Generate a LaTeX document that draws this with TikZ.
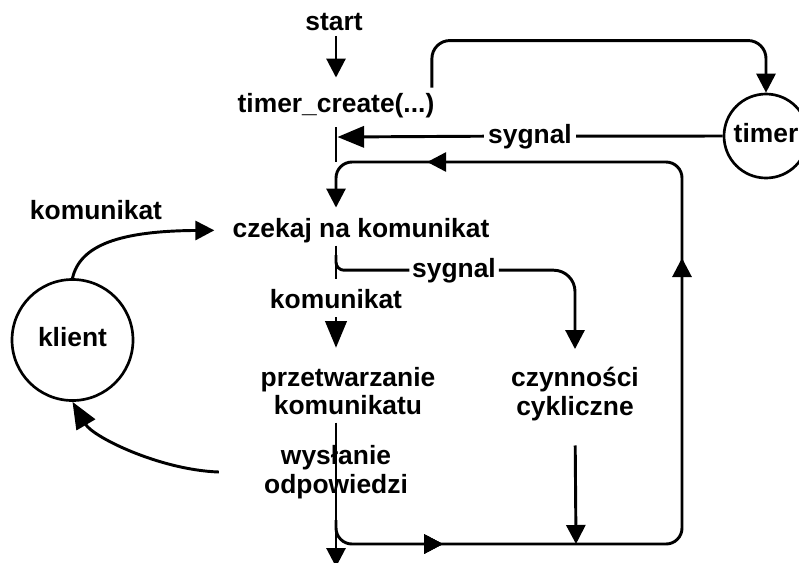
\documentclass[tikz,border=0pt]{standalone}
\usepackage{fontspec}
\setmainfont{Liberation Sans}
\usetikzlibrary{arrows.meta,decorations.markings}

\tikzset{
  txt/.style={font=\bfseries\fontsize{19.8}{21.4}\selectfont, inner sep=0pt},
  lbl/.style={txt, text height=14.4pt, text depth=4.2pt},
  multi/.style={txt, align=center},
  conn/.style={line width=2.2pt},
  arr/.style={conn, -{Triangle[length=14.25pt,width=14.25pt]}},
  bigarr/.style={conn, -{Triangle[length=20pt,width=16pt]}},
  proc/.style={circle, draw, line width=2pt, inner sep=0pt, txt, text height=14.4pt, text depth=4.2pt},
  midtip/.style={decoration={markings, mark=at position #1 with {\arrow{Triangle[length=14.25pt,width=14.25pt]}}}, postaction=decorate},
}

\begin{document}
\begin{tikzpicture}[x=0.75pt,y=-0.75pt]
\useasboundingbox (0,0) rectangle (799,562);
\clip (0,0) rectangle (799,562);

% processes
\node[proc, minimum size=63pt] (timer) at (766,136) {timer};
\node[proc, minimum size=90.75pt] (klient) at (72.5,340) {klient};

% texts of the main loop
\node[lbl, anchor=base] (start) at (334,30) {start};
\node[lbl, anchor=base] (tc) at (336,112) {timer\_create(...)};
\node[lbl, anchor=base, inner xsep=3pt] (syg1) at (530,143) {sygnal};
\node[lbl, anchor=base] (czekaj) at (361,237) {czekaj na komunikat};
\node[lbl, anchor=base, inner xsep=2pt] (syg2) at (454,277) {sygnal};
\node[lbl, anchor=base] (kom) at (336,308) {komunikat};
\node[lbl, anchor=base] (komL) at (96,219) {komunikat};
\node[multi] (przetw) at (348,391) {przetwarzanie\\komunikatu};
\node[multi] (wys) at (336,472) {wysłanie\\odpowiedzi};
\node[multi] (czyn) at (575,394) {czynności\\cykliczne};

% junctions on the main line
\coordinate (jS1) at (337.5,137);
\coordinate (jS2) at (336,255);
\coordinate (jLoop) at (336,520);
\coordinate (jBL) at (336,544);
\coordinate (jBR) at (682,544);
\coordinate (jTR) at (682,162);
\coordinate (jTL) at (336,162);
\coordinate (jCz) at (576,544);
\coordinate (jEnd) at (336,567);

% start and timer creation
\draw[arr, shorten >=11.25pt] (tc.north |- start.south) -- (tc.north);
\draw[arr, rounded corners=13.5pt] ([xshift=-2pt,yshift=3.75pt]tc.north east) -- ++(0,-47) -| (timer.north);
\draw[conn] (timer.west) -- (syg1.east);
\draw[bigarr] (syg1.west) -- (jS1);
\draw[conn, shorten <=7.1pt] (tc.south) -- (jTL);

% cyclic loop back to waiting
\draw[arr, rounded corners=12pt, shorten >=7.5pt,
      midtip=93.1pt, postaction={midtip=481.7pt}, postaction={midtip=739.7pt}]
  (jLoop) -- (jBL) -- (jBR) -- (jTR) -- (jTL) -- (jTL |- czekaj.north);

% waiting: message or signal
\draw[conn, shorten <=2pt, shorten >=7.5pt] (czekaj.south -| jTL) -- (kom.north);
\draw[bigarr, shorten <=2.6pt, shorten >=14.25pt] (kom.south) -- (kom.south |- przetw.north);
\draw[conn, rounded corners=6pt] (jS2) |- (syg2.west);
\draw[arr, rounded corners=16pt, shorten >=13.5pt] (syg2.east) -| (czyn.north);

% processing and sending
\draw[arr, shorten <=5.6pt] (kom.south |- przetw.south) -- (jEnd);
\draw[arr, shorten <=18.4pt] (czyn.south) -- (jCz);

% client exchange
\draw[arr, shorten >=13.5pt] (klient.north) .. controls (80,245) and (120,231) .. (czekaj.west);
\draw[bigarr] ([xshift=-33.75pt]wys.west) .. controls (160,470) and (93,437) .. (klient.south);
\end{tikzpicture}
\end{document}
